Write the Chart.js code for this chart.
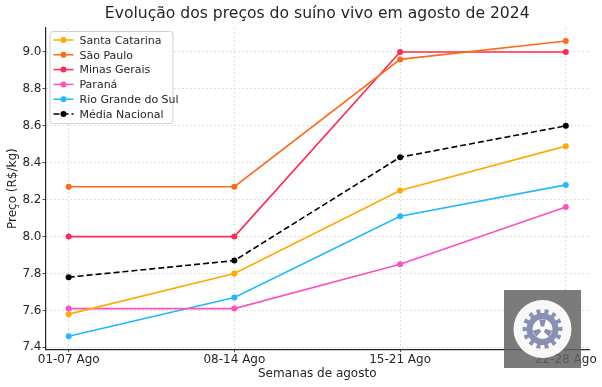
<!DOCTYPE html>
<html>
<head>
<meta charset="utf-8">
<script src="https://cdn.jsdelivr.net/npm/chart.js@4"></script>
<style>
	html, body { margin: 0; padding: 0; background: #fff; }
	#wrap { width: 602px; height: 387px; }
</style>
</head>
<body>
<div id="wrap"><canvas id="precos"></canvas></div>
<script>
const titulo = 'Evolução dos preços do suíno vivo em agosto de 2024'
const semanas = ['01-07 Ago', '08-14 Ago', '15-21 Ago', '22-28 Ago']
const santaCatarina = [7.58, 7.80, 8.25, 8.49]
const saoPaulo = [8.27, 8.27, 8.96, 9.06]
const minasGerais = [8.00, 8.00, 9.00, 9.00]
const parana = [7.61, 7.61, 7.85, 8.16]
const rioGrandeDoSul = [7.46, 7.67, 8.11, 8.28]
const mediaNacional = [7.78, 7.87, 8.43, 8.60]
const yTicks = [7.4, 7.6, 7.8, 8.0, 8.2, 8.4, 8.6, 8.8, 9.0]

const font = "'DejaVu Sans', sans-serif"

function serie(label, values, color, dashed) {
	return {
		label: label,
		data: values.map((v, i) => ({ x: i, y: v })),
		borderColor: color,
		backgroundColor: color,
		borderWidth: 1.6,
		borderDash: dashed ? [6, 3] : [],
		pointRadius: 3,
		pointHoverRadius: 3,
		pointBorderWidth: 0,
		tension: 0,
	}
}

const datasets = [
	serie('Santa Catarina', santaCatarina, '#ffaa00'),
	serie('São Paulo', saoPaulo, '#ff6a1a'),
	serie('Minas Gerais', minasGerais, '#ff2a50'),
	serie('Paraná', parana, '#ff50c0'),
	serie('Rio Grande do Sul', rioGrandeDoSul, '#22b8ff'),
	serie('Média Nacional', mediaNacional, '#000000', true),
]

// title centred over the plot area (like matplotlib), not the whole canvas
const axesTitle = {
	id: 'axesTitle',
	afterDraw(chart) {
		const ctx = chart.ctx
		const area = chart.chartArea
		ctx.save()
		ctx.font = '15.6px ' + font
		ctx.fillStyle = '#262626'
		ctx.textAlign = 'center'
		ctx.textBaseline = 'middle'
		ctx.fillText(titulo, (area.left + area.right) / 2, 14)
		ctx.restore()
	},
}

// legend drawn inside the plot, matplotlib style
const innerLegend = {
	id: 'innerLegend',
	afterDatasetsDraw(chart) {
		const ctx = chart.ctx
		const area = chart.chartArea
		const x0 = area.left + 4
		const y0 = area.top + 3
		const w = 123
		const h = 92
		ctx.save()
		ctx.fillStyle = 'rgba(255,255,255,0.85)'
		ctx.strokeStyle = '#d0d0d0'
		ctx.lineWidth = 1
		ctx.beginPath()
		ctx.roundRect(x0 + 0.5, y0 + 0.5, w, h, 3)
		ctx.fill()
		ctx.stroke()
		ctx.font = '11px ' + font
		ctx.textBaseline = 'middle'
		chart.data.datasets.forEach((ds, i) => {
			const y = y0 + 9 + i * 14.8
			ctx.strokeStyle = ds.borderColor
			ctx.lineWidth = 1.5
			ctx.setLineDash(ds.borderDash)
			ctx.beginPath()
			ctx.moveTo(x0 + 4, y)
			ctx.lineTo(x0 + 24, y)
			ctx.stroke()
			ctx.setLineDash([])
			ctx.fillStyle = ds.borderColor
			ctx.beginPath()
			ctx.arc(x0 + 14, y, 3, 0, Math.PI * 2)
			ctx.fill()
			ctx.fillStyle = '#262626'
			ctx.fillText(ds.label, x0 + 30, y + 1)
		})
		ctx.restore()
	},
}

// grey badge with gear in the lower right corner
const badge = {
	id: 'badge',
	afterDraw(chart) {
		const ctx = chart.ctx
		const bx = 504, by = 290, bw = 77, bh = 78
		const cx = bx + bw / 2, cy = by + bh / 2
		ctx.save()
		ctx.fillStyle = 'rgba(100,100,100,0.85)'
		ctx.fillRect(bx, by, bw, bh)
		ctx.fillStyle = 'rgba(255,255,255,0.95)'
		ctx.beginPath()
		ctx.arc(cx, cy, 29, 0, Math.PI * 2)
		ctx.fill()
		ctx.fillStyle = '#8a90b4'
		ctx.beginPath()
		const teeth = 14
		for (let i = 0; i < teeth * 2; i++) {
			const a = (i / (teeth * 2)) * Math.PI * 2
			const r = i % 2 === 0 ? 20 : 16
			const a1 = a - Math.PI / (teeth * 2)
			const a2 = a + Math.PI / (teeth * 2)
			ctx.lineTo(cx + r * Math.cos(a1), cy + r * Math.sin(a1))
			ctx.lineTo(cx + r * Math.cos(a2), cy + r * Math.sin(a2))
		}
		ctx.closePath()
		ctx.fill()
		ctx.fillStyle = '#ffffff'
		ctx.beginPath()
		ctx.arc(cx, cy, 10, 0, Math.PI * 2)
		ctx.fill()
		ctx.fillStyle = '#8a90b4'
		for (let k = 0; k < 3; k++) {
			const a = k * Math.PI * 2 / 3 - Math.PI / 2
			ctx.beginPath()
			ctx.moveTo(cx + 3 * Math.cos(a - 0.6), cy + 3 * Math.sin(a - 0.6))
			ctx.lineTo(cx + 10 * Math.cos(a - 0.35), cy + 10 * Math.sin(a - 0.35))
			ctx.lineTo(cx + 10 * Math.cos(a + 0.35), cy + 10 * Math.sin(a + 0.35))
			ctx.lineTo(cx + 3 * Math.cos(a + 0.6), cy + 3 * Math.sin(a + 0.6))
			ctx.closePath()
			ctx.fill()
		}
		ctx.restore()
	},
}

const config = {
	type: 'line',
	data: { datasets: datasets },
	options: {
		responsive: true,
		maintainAspectRatio: false,
		animation: false,
		events: [],
		layout: { padding: { top: 28, right: 13, left: 6, bottom: 6 } },
		plugins: {
			legend: { display: false },
			tooltip: { enabled: false },
			title: { display: false },
		},
		scales: {
			x: {
				type: 'linear',
				min: -0.14,
				max: 3.14,
				afterBuildTicks: axis => {
					axis.ticks = semanas.map((s, i) => ({ value: i }))
				},
				ticks: {
					callback: v => semanas[v],
					color: '#262626',
					font: { family: font, size: 12, lineHeight: 1.2 },
					padding: 0,
					maxRotation: 0,
				},
				grid: {
					color: '#d6d6d6',
					tickColor: '#262626',
					tickLength: 3,
					lineWidth: 0.8,
				},
				border: { display: true, color: '#262626', width: 1.2, dash: [2, 2] },
				title: {
					display: true,
					text: 'Semanas de agosto',
					color: '#262626',
					font: { family: font, size: 12, lineHeight: 1.2 },
					padding: { top: 0, bottom: 0 },
				},
			},
			y: {
				min: 7.39,
				max: 9.13,
				afterBuildTicks: axis => {
					axis.ticks = yTicks.map(v => ({ value: v }))
				},
				ticks: {
					callback: v => v.toFixed(1),
					color: '#262626',
					font: { family: font, size: 12 },
					padding: 1,
				},
				grid: {
					color: '#d6d6d6',
					tickColor: '#262626',
					tickLength: 3,
					lineWidth: 0.8,
				},
				border: { display: true, color: '#262626', width: 1.2, dash: [2, 2] },
				title: {
					display: true,
					text: 'Preço (R$/kg)',
					color: '#262626',
					font: { family: font, size: 12 },
					padding: { top: 0, bottom: 1 },
				},
			},
		},
	},
	plugins: [axesTitle, innerLegend, badge],
}

const canvaRef = document.querySelector('#precos')
const precosChart = new Chart(canvaRef, config)
</script>
</body>
</html>
